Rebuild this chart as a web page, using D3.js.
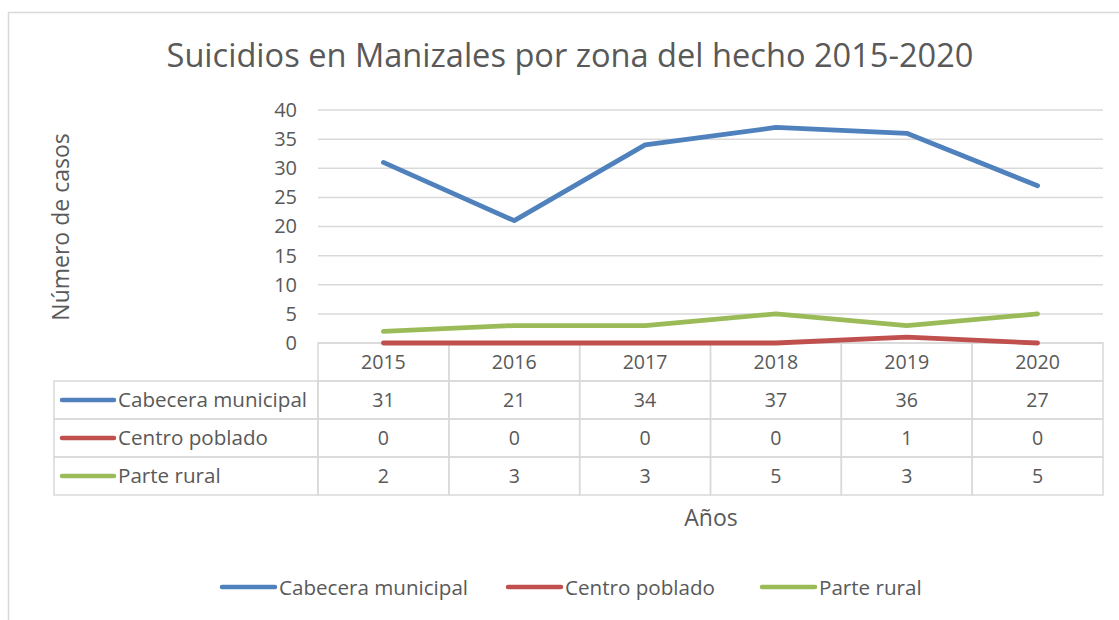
<!DOCTYPE html>
<html>
<head>
<meta charset="utf-8">
<script src="https://cdn.jsdelivr.net/npm/d3@7"></script>
<style>
  body { margin: 0; background: #fff; }
  svg { display: block; font-family: "Open Sans", Lato, sans-serif; }
</style>
</head>
<body>
<svg id="chart" width="1119" height="620"></svg>
<script>
// data
const years = ["2015", "2016", "2017", "2018", "2019", "2020"];
const seriesNames = ["Cabecera municipal", "Centro poblado", "Parte rural"];
const cabecera = [31, 21, 34, 37, 36, 27];
const centro = [0, 0, 0, 0, 1, 0];
const rural = [2, 3, 3, 5, 3, 5];
const yTicks = [0, 5, 10, 15, 20, 25, 30, 35, 40];
const colors = ["#4f81bd", "#c0504d", "#9bbb59"];

const allSeries = [cabecera, centro, rural];
const textColor = "#595959";
const gridColor = "#d9d9d9";

const svg = d3.select("#chart");

// outer chart border (only top and left visible in the frame)
svg.append("rect")
    .attr("x", 8.5).attr("y", 12.5)
    .attr("width", 1130).attr("height", 640)
    .attr("fill", "none")
    .attr("stroke", gridColor)
    .attr("stroke-width", 1.5);

// title
svg.append("text")
    .attr("x", 570).attr("y", 67)
    .attr("text-anchor", "middle")
    .attr("fill", textColor)
    .style("font-size", "32.6px")
    .text("Suicidios en Manizales por zona del hecho 2015-2020");

const plotLeft = 318, plotRight = 1103, plotTop = 110, plotBottom = 343;

var x = d3.scaleBand()
    .domain(years)
    .range([plotLeft, plotRight]);

var y = d3.scaleLinear()
    .domain([0, 40])
    .range([plotBottom, plotTop]);

// gridlines
svg.append("g")
    .selectAll("line")
    .data(yTicks)
    .enter()
    .append("line")
    .attr("x1", plotLeft).attr("x2", plotRight)
    .attr("y1", d => y(d)).attr("y2", d => y(d))
    .attr("stroke", gridColor)
    .attr("stroke-width", 1.5);

// y axis labels
var yAxis = d3.axisLeft(y).tickValues(yTicks).tickSize(0).tickPadding(0);
var gy = svg.append("g")
    .attr("transform", `translate(${plotLeft - 21},0)`)
    .call(yAxis);
gy.select(".domain").remove();
gy.selectAll("text")
    .attr("fill", textColor)
    .style("font-size", "20px")
    .style("font-family", "'Open Sans', Lato, sans-serif");

// y axis title
svg.append("text")
    .attr("transform", "translate(69,227) rotate(-90)")
    .attr("text-anchor", "middle")
    .attr("fill", textColor)
    .style("font-size", "23px")
    .text("Número de casos");

// data table
const rowH = 38;
const tableTop = plotBottom;
const tableLeft = 54;
const tbl = svg.append("g");

// header cells (years)
tbl.selectAll("rect.head")
    .data(years)
    .enter()
    .append("rect")
    .attr("class", "head")
    .attr("x", d => x(d)).attr("y", tableTop)
    .attr("width", x.bandwidth()).attr("height", rowH)
    .attr("fill", "none").attr("stroke", gridColor).attr("stroke-width", 1.5);

tbl.selectAll("text.head")
    .data(years)
    .enter()
    .append("text")
    .attr("class", "head")
    .attr("x", d => x(d) + x.bandwidth() / 2)
    .attr("y", tableTop + rowH / 2 + 7)
    .attr("text-anchor", "middle")
    .attr("fill", textColor)
    .style("font-size", "19.6px")
    .text(d => d);

allSeries.forEach(function (vals, i) {
    var rowY = tableTop + rowH * (i + 1);
    // label cell
    tbl.append("rect")
        .attr("x", tableLeft).attr("y", rowY)
        .attr("width", plotLeft - tableLeft).attr("height", rowH)
        .attr("fill", "none").attr("stroke", gridColor).attr("stroke-width", 1.5);
    tbl.append("line")
        .attr("x1", 62).attr("x2", 114)
        .attr("y1", rowY + rowH / 2).attr("y2", rowY + rowH / 2)
        .attr("stroke", colors[i]).attr("stroke-width", 4.5)
        .attr("stroke-linecap", "round");
    tbl.append("text")
        .attr("x", 118).attr("y", rowY + rowH / 2 + 7)
        .attr("fill", textColor)
        .style("font-size", "20.6px")
        .text(seriesNames[i]);
    // value cells
    tbl.selectAll(null)
        .data(years)
        .enter()
        .append("rect")
        .attr("x", d => x(d)).attr("y", rowY)
        .attr("width", x.bandwidth()).attr("height", rowH)
        .attr("fill", "none").attr("stroke", gridColor).attr("stroke-width", 1.5);
    tbl.selectAll(null)
        .data(vals)
        .enter()
        .append("text")
        .attr("x", (d, j) => x(years[j]) + x.bandwidth() / 2)
        .attr("y", rowY + rowH / 2 + 7)
        .attr("text-anchor", "middle")
        .attr("fill", textColor)
        .style("font-size", "19.6px")
        .text(d => d);
});

// lines
var line = d3.line()
    .x((d, j) => x(years[j]) + x.bandwidth() / 2)
    .y(d => y(d));

svg.append("g")
    .selectAll("path")
    .data(allSeries)
    .enter()
    .append("path")
    .attr("d", line)
    .attr("fill", "none")
    .attr("stroke", (d, i) => colors[i])
    .attr("stroke-width", 4.8)
    .attr("stroke-linecap", "round")
    .attr("stroke-linejoin", "round");

// x axis title
svg.append("text")
    .attr("x", 711).attr("y", 526)
    .attr("text-anchor", "middle")
    .attr("fill", textColor)
    .style("font-size", "23px")
    .text("Años");

// legend
const legendX = [222, 508, 762];
var lg = svg.append("g")
    .selectAll("g")
    .data(seriesNames)
    .enter()
    .append("g")
    .attr("transform", (d, i) => `translate(${legendX[i]},587)`);
lg.append("line")
    .attr("x1", 0).attr("x2", 53)
    .attr("stroke", (d, i) => colors[i])
    .attr("stroke-width", 4.5)
    .attr("stroke-linecap", "round");
lg.append("text")
    .attr("x", 57).attr("y", 7.5)
    .attr("fill", textColor)
    .style("font-size", "20.6px")
    .text(d => d);
</script>
</body>
</html>
